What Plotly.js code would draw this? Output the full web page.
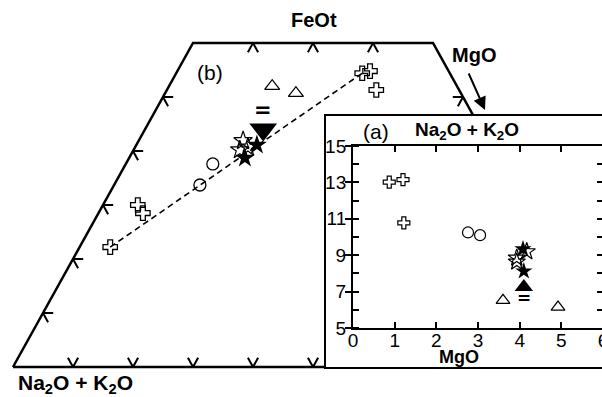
<!DOCTYPE html>
<html><head><meta charset="utf-8">
<script src="https://cdn.plot.ly/plotly-3.0.1.min.js"></script>
<style>
html,body{margin:0;padding:0;overflow:hidden;background:#fff}
#main{position:absolute;left:0;top:0;width:606px;height:397px}
#inset{position:absolute;left:324px;top:114px;width:282px;height:255px;z-index:2}
</style>
</head><body><div id="main"></div><div id="inset"></div>
<script>
// ---------- (b) ternary AFM data (A = Na2O+K2O, F = FeOt, M = MgO, %) ----------
const crossA = [14.6, 13.1, 13.8, 64.2, 64.1, 72.7];
const crossF = [54.4, 54.8, 51.3, 30.0, 28.5, 22.2];
const crossM = [31.0, 32.1, 34.9, 5.8, 7.4, 5.1];
const circleA = [47.9, 52.0];
const circleF = [37.6, 33.7];
const circleM = [14.5, 14.3];
const triA = [30.8, 27.5];
const triF = [52.0, 50.7];
const triM = [17.2, 21.8];
const starFillA = [38.8, 42.0];
const starFillF = [41.1, 38.7];
const starFillM = [20.1, 19.3];
const starOpenA = [40.7, 42.1, 40.5];
const starOpenF = [41.9, 40.2, 40.7];
const starOpenM = [17.4, 17.7, 18.8];
const arrowA = [36.3];
const arrowF = [44.0];
const arrowM = [19.7];
const trendA = [72.7, 14.6];
const trendF = [22.2, 54.4];
const trendM = [5.1, 31.0];
// diagram frame (truncated at FeOt = 60) and tick values
const edgeA = [100, 40, 0, 0, 100];
const edgeF = [0, 60, 60, 0, 0];
const edgeM = [0, 0, 40, 100, 0];
const leftTicksF = [10, 20, 30, 40, 50];
const topTicksM = [10, 20, 30];
const bottomTicksM = [10, 20, 30, 40, 50, 60, 70, 80, 90];
const rightTicksF = [10, 20, 30, 40, 50];

// ---------- (a) MgO vs Na2O+K2O ----------
const aCrossMgO = [0.87, 1.2, 1.22];
const aCrossAlk = [13.02, 13.15, 10.78];
const aCircleMgO = [2.76, 3.05];
const aCircleAlk = [10.25, 10.1];
const aTriMgO = [3.6, 4.92];
const aTriAlk = [6.52, 6.15];
const aStarFillMgO = [4.08, 4.1];
const aStarFillAlk = [9.34, 8.12];
const aStarOpenMgO = [3.93, 3.93, 4.17];
const aStarOpenAlk = [8.85, 8.63, 9.2];
const aArrowMgO = [4.1];
const aArrowAlk = [7.25];
const aXTicks = [0, 1, 2, 3, 4, 5, 6];
const aYTicks = [5, 7, 9, 11, 13, 15];

// ternary -> cartesian projection
const tx = (f, m) => m + f / 2;
const ty = (f) => f;
const projX = (F, M) => F.map((f, i) => tx(f, M[i]));
const projY = (F) => F.map(ty);

// tick segments along the two other composition lines
const t = 1.7;
const tickX = [], tickY = [];
function seg(p, q) { tickX.push(tx(p[1], p[2]), tx(q[1], q[2]), null); tickY.push(ty(p[1]), ty(q[1]), null); }
leftTicksF.forEach(F => { const A = 100 - F; seg([A, F, 0], [A - t, F, t]); seg([A, F, 0], [A, F - t, t]); });
topTicksM.forEach(M => { const A = 40 - M; seg([A, 60, M], [A + t, 60 - t, M]); seg([A, 60, M], [A, 60 - t, M + t]); });
bottomTicksM.forEach(M => { const A = 100 - M; seg([A, 0, M], [A - t, t, M]); seg([A, 0, M], [A, t, M - t]); });
rightTicksF.forEach(F => { const M = 100 - F; seg([0, F, M], [t, F, M - t]); seg([0, F, M], [t, F - t, M]); });

const blk = '#000';
const fnt = 'Arial, "Liberation Sans", sans-serif';
const eqFont = size => ({family: '"DejaVu Sans", sans-serif', size: size, color: blk, weight: 'bold'});

const mainTraces = [
  {x: projX(edgeF, edgeM), y: projY(edgeF), mode: 'lines', line: {color: blk, width: 2.5}},
  {x: tickX, y: tickY, mode: 'lines', line: {color: blk, width: 2}},
  {x: projX(trendF, trendM), y: projY(trendF), mode: 'lines', line: {color: blk, width: 1.6, dash: '6px,4px'}},
  {x: projX(crossF, crossM), y: projY(crossF), mode: 'markers', marker: {symbol: 'cross-open', size: 12, color: blk, line: {width: 1.3}}},
  {x: projX(circleF, circleM), y: projY(circleF), mode: 'markers', marker: {symbol: 'circle-open', size: 12, color: blk, line: {width: 1.3}}},
  {x: projX(triF, triM), y: projY(triF), mode: 'markers', marker: {symbol: 'triangle-up-open', size: 13, color: blk, line: {width: 1.3}}},
  {x: projX(starFillF, starFillM), y: projY(starFillF), mode: 'markers', marker: {symbol: 'star', size: 15, color: blk}},
  {x: projX(starOpenF, starOpenM), y: projY(starOpenF), mode: 'markers', marker: {symbol: 'star-open', size: 14, color: blk, line: {width: 1.2}}},
  {x: projX(arrowF, arrowM), y: projY(arrowF), mode: 'markers', marker: {symbol: 'triangle-down', size: 24, color: blk}}
];

const W = 606, H = 397;
const px = v => v / W, py = v => 1 - v / H;
const ann = (x, y, text, size, bold) => ({xref: 'paper', yref: 'paper', x: x, y: y, text: bold ? '<b>' + text + '</b>' : text, showarrow: false, xanchor: 'center', yanchor: 'middle', font: {family: fnt, size: size, color: blk}});

const mainLayout = {
  width: W, height: H, margin: {l: 0, r: 0, t: 0, b: 0},
  paper_bgcolor: '#fff', plot_bgcolor: '#fff', showlegend: false,
  font: {family: fnt, color: blk},
  xaxis: {range: [-13 / 6, (W - 13) / 6], visible: false, fixedrange: true},
  yaxis: {range: [(367 - H) / 5.4, 367 / 5.4], visible: false, fixedrange: true},
  annotations: [
    ann(px(314), py(20), 'FeOt', 20, true),
    ann(px(474), py(55), 'MgO', 20, true),
    ann(px(75), py(384), 'Na<sub>2</sub>O + K<sub>2</sub>O', 21, true),
    ann(px(210), py(72), '(b)', 21, false),
    {xref: 'x', yref: 'y', x: projX(arrowF, arrowM)[0], y: projY(arrowF)[0], text: '<b>=</b>', showarrow: false, xanchor: 'center', yanchor: 'middle', yshift: 19, font: eqFont(21)},
    {xref: 'paper', yref: 'paper', x: px(485), y: py(110), ax: -17, ay: -38, text: '', showarrow: true, arrowhead: 2, arrowsize: 1.3, arrowwidth: 2, arrowcolor: blk}
  ]
};

// inset (a): paper coords are relative to its plot area (x 353..603, y 146..328 page px)
const ix = v => (v - 353) / 250, iy = v => (328 - v) / 182;
const insetTraces = [
  {x: aCrossMgO, y: aCrossAlk, mode: 'markers', marker: {symbol: 'cross-open', size: 10, color: blk, line: {width: 1.2}}},
  {x: aCircleMgO, y: aCircleAlk, mode: 'markers', marker: {symbol: 'circle-open', size: 11, color: blk, line: {width: 1.2}}},
  {x: aTriMgO, y: aTriAlk, mode: 'markers', marker: {symbol: 'triangle-up-open', size: 12, color: blk, line: {width: 1.2}}},
  {x: aStarOpenMgO, y: aStarOpenAlk, mode: 'markers', marker: {symbol: 'star-open', size: 13, color: blk, line: {width: 1.2}}},
  {x: aStarFillMgO, y: aStarFillAlk, mode: 'markers', marker: {symbol: 'star', size: 13, color: blk}},
  {x: aArrowMgO, y: aArrowAlk, mode: 'markers', marker: {symbol: 'triangle-up', size: 16, color: blk}},
  {x: [], y: [], yaxis: 'y2', mode: 'markers'}
];
const insetLayout = {
  width: 282, height: 255, margin: {l: 29, r: 3, t: 32, b: 41},
  paper_bgcolor: '#fff', plot_bgcolor: '#fff', showlegend: false,
  font: {family: fnt, color: blk},
  xaxis: {range: [0, 6], tickvals: aXTicks, ticks: 'inside', ticklen: 6, tickwidth: 2, tickcolor: blk, ticklabeloverflow: 'allow', ticklabelstandoff: -6,
    showline: true, linewidth: 2, linecolor: blk, mirror: 'ticks', showgrid: false, zeroline: false, tickfont: {size: 19, family: fnt, color: blk}, fixedrange: true},
  yaxis: {range: [5, 15], tickvals: aYTicks, ticks: 'outside', ticklen: 6, tickwidth: 2, tickcolor: blk, ticklabeloverflow: 'allow', ticklabelstandoff: -5,
    minor: {tick0: 5, dtick: 1, ticks: 'inside', ticklen: 6, tickwidth: 2, tickcolor: blk},
    showline: true, linewidth: 2, linecolor: blk, mirror: true, showgrid: false, zeroline: false, tickfont: {size: 19, family: fnt, color: blk}, fixedrange: true},
  yaxis2: {overlaying: 'y', anchor: 'x', side: 'right', range: [5, 15], tick0: 5, dtick: 1, ticks: 'inside', ticklen: 6, tickwidth: 2, tickcolor: blk,
    showticklabels: false, showline: false, showgrid: false, zeroline: false, fixedrange: true},
  shapes: [
    {type: 'rect', xref: 'paper', yref: 'paper', x0: ix(325), x1: 1.2, y0: iy(368), y1: iy(115), line: {color: blk, width: 2}, layer: 'above'}
  ],
  annotations: [
    ann(ix(376), iy(131), '(a)', 21, false),
    ann(ix(467), iy(131), 'Na<sub>2</sub>O + K<sub>2</sub>O', 19, true),
    ann(ix(459), iy(357), 'MgO', 18, true),
    {xref: 'x', yref: 'y', x: aArrowMgO[0], y: aArrowAlk[0], text: '<b>=</b>', showarrow: false, xanchor: 'center', yanchor: 'middle', yshift: -11, font: eqFont(17)}
  ]
};
const cfg = {staticPlot: true, displayModeBar: false};
Plotly.newPlot('main', mainTraces, mainLayout, cfg);
Plotly.newPlot('inset', insetTraces, insetLayout, cfg);
</script></body></html>
